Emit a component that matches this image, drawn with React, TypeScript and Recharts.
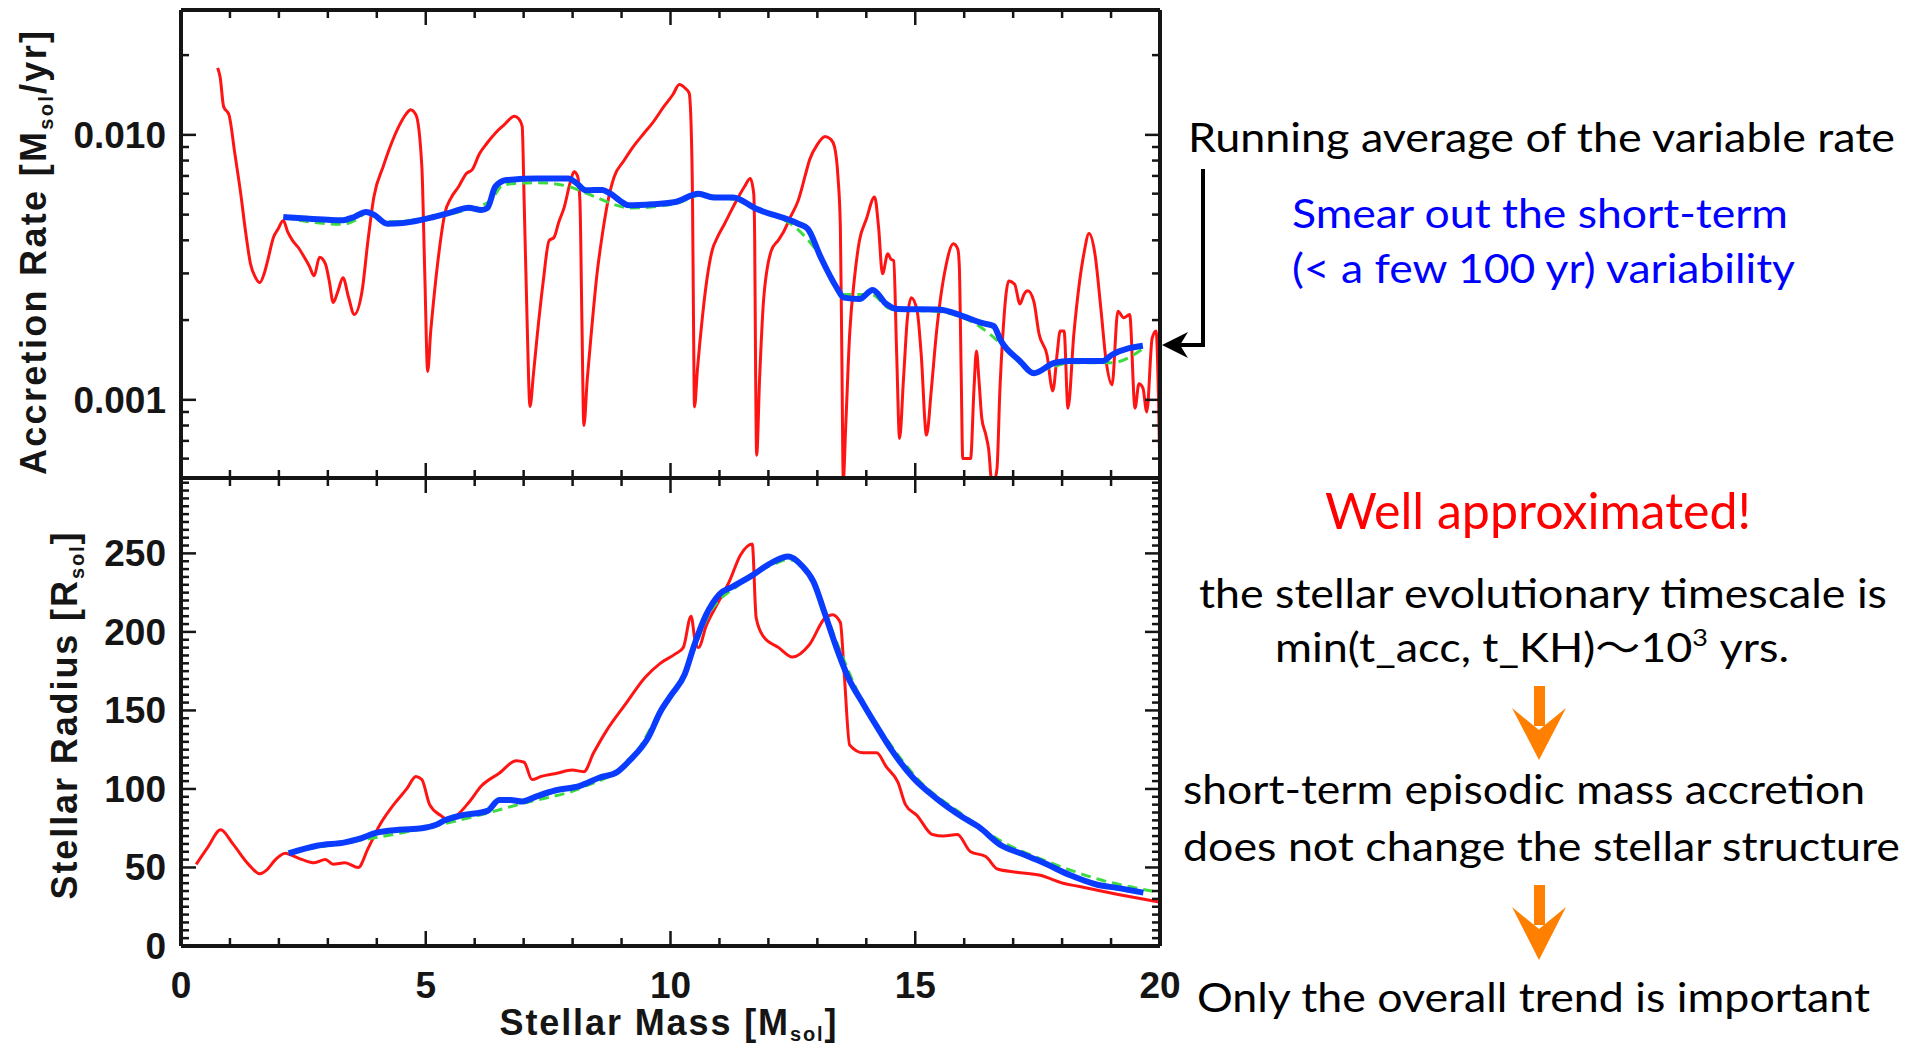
import React from "react";
import { LineChart, Line, XAxis, YAxis } from "recharts";

// upper panel: variable accretion rate (red), running average (blue), fit (green dashed)
const rateMass = [
  0.75, 0.8, 0.87, 0.98, 1.1, 1.22, 1.32, 1.42, 1.52, 1.61, 1.7, 1.77, 1.89, 1.98, 2.09, 2.18, 2.28, 2.4, 2.52, 2.62,
  2.72, 2.83, 2.95, 3.03, 3.11, 3.2, 3.31, 3.42, 3.54, 3.7, 3.82, 3.94, 4.13, 4.3, 4.45, 4.6, 4.69, 4.8, 4.92, 4.98,
  5.04, 5.1, 5.16, 5.27, 5.39, 5.52, 5.67, 5.83, 5.95, 6.1, 6.25, 6.42, 6.6, 6.81, 6.9, 6.97, 7.01, 7.07, 7.13, 7.2,
  7.28, 7.4, 7.52, 7.62, 7.72, 7.83, 7.95, 8.03, 8.1, 8.15, 8.19, 8.23, 8.3, 8.38, 8.5, 8.61, 8.72, 8.85, 9.05, 9.24,
  9.45, 9.63, 9.87, 10.05, 10.18, 10.3, 10.38, 10.42, 10.45, 10.47, 10.49, 10.55, 10.65, 10.75, 10.85, 10.96, 11.1,
  11.28, 11.51, 11.63, 11.7, 11.72, 11.74, 11.76, 11.82, 11.9, 12.06, 12.2, 12.29, 12.45, 12.61, 12.75, 12.84, 13.0,
  13.16, 13.28, 13.35, 13.42, 13.47, 13.5, 13.53, 13.58, 13.66, 13.76, 13.86, 14.0, 14.17, 14.25, 14.33, 14.44, 14.5,
  14.56, 14.62, 14.68, 14.76, 14.84, 14.92, 15.04, 15.12, 15.23, 15.33, 15.43, 15.62, 15.78, 15.87, 15.9, 15.94,
  15.97, 16.05, 16.13, 16.2, 16.25, 16.3, 16.36, 16.44, 16.5, 16.56, 16.62, 16.67, 16.73, 16.79, 16.91, 17.03, 17.14,
  17.22, 17.3, 17.42, 17.53, 17.69, 17.81, 17.9, 17.96, 18.04, 18.12, 18.24, 18.35, 18.45, 18.55, 18.67, 18.79, 18.9,
  19.02, 19.14, 19.26, 19.38, 19.49, 19.57, 19.65, 19.73, 19.84, 19.92, 19.97, 20.0,
];
const rateValue = [
  0.0179, 0.0165, 0.0128, 0.0119, 0.0085, 0.006, 0.0043, 0.00326, 0.0029, 0.00277, 0.003, 0.00335, 0.00411, 0.0044,
  0.00475, 0.0043, 0.00399, 0.00375, 0.00345, 0.0032, 0.00294, 0.00345, 0.00326, 0.0028, 0.00233, 0.00255, 0.00289,
  0.00245, 0.0021, 0.00258, 0.004, 0.00583, 0.00759, 0.0093, 0.01076, 0.012, 0.01245, 0.0119, 0.0076, 0.003, 0.00128,
  0.0018, 0.00236, 0.0036, 0.00505, 0.0058, 0.00637, 0.00715, 0.0074, 0.0085, 0.0093, 0.01015, 0.0109, 0.01175,
  0.0115, 0.01076, 0.00566, 0.002, 0.000944, 0.00125, 0.00177, 0.0028, 0.00399, 0.0041, 0.0047, 0.00534, 0.0066,
  0.00726, 0.007, 0.0056, 0.002, 0.0008, 0.0012, 0.00177, 0.003, 0.00424, 0.0056, 0.00695, 0.008, 0.00903, 0.0101,
  0.01107, 0.01283, 0.0142, 0.01549, 0.015, 0.0144, 0.011, 0.00566, 0.002, 0.00094, 0.0013, 0.00204, 0.0029, 0.00366,
  0.00411, 0.0046, 0.00535, 0.00637, 0.00684, 0.006, 0.004, 0.0012, 0.000618, 0.0012, 0.00236, 0.00366, 0.004,
  0.00424, 0.0049, 0.00566, 0.007, 0.00804, 0.0092, 0.00986, 0.0096, 0.00903, 0.007, 0.0045, 0.0015, 0.0005, 0.0008,
  0.00177, 0.0029, 0.00399, 0.0048, 0.00583, 0.0045, 0.00299, 0.00356, 0.0034, 0.00335, 0.0015, 0.000715, 0.0012,
  0.00204, 0.00243, 0.00216, 0.0015, 0.000736, 0.0011, 0.00177, 0.00316, 0.00388, 0.0037, 0.0032, 0.0012, 0.0006,
  0.0006, 0.0006, 0.0011, 0.00153, 0.0012, 0.00085, 0.00074, 0.00065, 0.0005, 0.0005, 0.00055, 0.0011, 0.00177,
  0.00281, 0.00273, 0.0023, 0.0025, 0.00258, 0.00236, 0.00177, 0.00148, 0.00108, 0.0015, 0.00182, 0.00182, 0.00093,
  0.00177, 0.00273, 0.0036, 0.00424, 0.00356, 0.00223, 0.0014, 0.00114, 0.00216, 0.00204, 0.0021, 0.00093, 0.00115,
  0.00111, 0.0009, 0.00171, 0.00182, 0.001, 0.0005,
];
const rateAvgMass = [
  2.09, 2.56, 3.0, 3.27, 3.54, 3.78, 3.94, 4.21, 4.53, 5.16, 5.55, 5.87, 6.14, 6.26, 6.42, 6.65, 7.28, 7.91, 8.07, 8.27,
  8.61, 8.77, 9.16, 9.63, 10.1, 10.57, 10.88, 11.28, 11.74, 12.61, 12.8, 13.07, 13.39, 13.54, 13.86, 14.13, 14.41,
  14.64, 15.5, 15.97, 16.36, 16.6, 16.75, 17.14, 17.42, 17.85, 18.16, 18.83, 19.02, 19.65,
];
const rateAvgValue = [
  0.0049, 0.00483, 0.00478, 0.00476, 0.0049, 0.00512, 0.005, 0.00462, 0.00465, 0.0049, 0.00512, 0.00531, 0.0052,
  0.0053, 0.00637, 0.00675, 0.00684, 0.00684, 0.0066, 0.00618, 0.0062, 0.006, 0.00542, 0.00547, 0.00558, 0.006,
  0.0058, 0.0058, 0.00527, 0.00462, 0.00443, 0.00345, 0.00266, 0.00243, 0.0024, 0.0026, 0.0023, 0.0022, 0.00219,
  0.00207, 0.00195, 0.0019, 0.00167, 0.0014, 0.00126, 0.00138, 0.0014, 0.0014, 0.00148, 0.0016,
];
const rateFitMass = [
  2.09, 2.6, 3.3, 3.6, 3.8, 4.2, 5.2, 5.8, 6.3, 6.6, 7.3, 7.9, 8.3, 9.2, 10.1, 10.6, 11.3, 11.8, 12.6, 13.1, 13.5, 14.1,
  14.5, 15.5, 16.3, 16.8, 17.4, 18.2, 19.0, 19.7,
];
const rateFitValue = [
  0.0049, 0.0047, 0.0046, 0.0048, 0.0051, 0.0047, 0.0049, 0.0052, 0.0056, 0.0065, 0.0066, 0.0064, 0.006, 0.0053,
  0.0055, 0.0059, 0.0057, 0.0052, 0.0044, 0.0034, 0.0025, 0.0025, 0.0022, 0.00215, 0.0019, 0.0016, 0.00128, 0.00138,
  0.00138, 0.00158,
];

// lower panel: stellar radius
const radiusMass = [
  0.31, 0.55, 0.81, 1.06, 1.38, 1.61, 1.77, 1.93, 2.13, 2.24, 2.48, 2.72, 2.95, 3.11, 3.35, 3.62, 3.82, 4.06, 4.37,
  4.61, 4.8, 4.92, 5.08, 5.31, 5.47, 5.63, 5.87, 6.14, 6.5, 6.85, 7.01, 7.17, 7.36, 7.68, 7.99, 8.23, 8.43, 8.69, 9.08,
  9.48, 9.79, 10.1, 10.26, 10.42, 10.5, 10.57, 10.73, 10.96, 11.2, 11.43, 11.67, 11.75, 11.9, 12.21, 12.49, 12.84,
  13.16, 13.31, 13.47, 13.55, 13.66, 13.94, 14.21, 14.41, 14.65, 14.8, 15.04, 15.35, 15.58, 15.86, 16.13, 16.44,
  16.68, 17.07, 17.55, 18.02, 18.33, 19.12, 19.98,
];
const radiusValue = [
  52, 63, 74, 65, 52, 46, 49, 55, 59, 58, 55, 53, 55, 52, 53, 50, 62, 77, 91, 100, 108, 106, 90, 83, 80, 83, 91, 102,
  110, 118, 117, 106, 108, 110, 112, 111, 123, 137, 154, 171, 180, 186, 190, 210, 195, 190, 204, 218, 232, 249, 256,
  209, 197, 190, 184, 192, 209, 211, 206, 173, 128, 123, 123, 114, 104, 90, 83, 71, 70, 71, 60, 57, 49, 47, 45, 40,
  38, 33, 28,
];
const radiusAvgMass = [
  2.2, 2.8, 3.35, 3.62, 3.98, 4.45, 4.92, 5.2, 5.39, 5.71, 6.26, 6.5, 6.73, 6.97, 7.24, 7.64, 8.15, 8.53, 8.92, 9.16,
  9.55, 9.79, 10.02, 10.29, 10.49, 10.73, 11.0, 11.28, 11.67, 12.06, 12.41, 12.69, 12.92, 13.16, 13.39, 13.63, 13.94,
  14.21, 14.49, 14.96, 15.43, 15.97, 16.29, 16.76, 17.15, 17.62, 18.17, 18.72, 19.12, 19.66,
];
const radiusAvgValue = [
  59, 64, 66, 68, 72, 74, 75, 77, 80, 83, 86, 93, 93, 92, 95, 99, 102, 107, 111, 118, 133, 149, 160, 173, 192, 211,
  224, 229, 236, 244, 248, 242, 232, 211, 190, 171, 154, 140, 126, 107, 94, 82, 76, 64, 59, 53, 45, 39, 37, 34,
];
const radiusFitMass = [
  2.2, 3.0, 3.6, 4.5, 5.4, 6.3, 7.0, 8.2, 9.2, 9.8, 10.3, 10.8, 11.4, 12.1, 12.4, 12.9, 13.4, 13.9, 14.5, 15.0, 16.0,
  16.8, 17.6, 18.2, 18.8, 19.5, 20.0,
];
const radiusFitValue = [
  60, 64, 67, 72, 78, 85, 91, 101, 119, 150, 175, 212, 230, 243, 246, 233, 193, 157, 128, 108, 83, 66, 55, 48, 42,
  37, 34,
];

const massTicks = Array.from({ length: 21 }, (_, i) => i);
const massMajor = [0, 5, 10, 15, 20];
const massLabels = ["0", "5", "10", "15", "20"];
const rateTicks = [
  0.0006, 0.0007, 0.0008, 0.0009, 0.001, 0.002, 0.003, 0.004, 0.005, 0.006, 0.007, 0.008, 0.009, 0.01, 0.02,
];
const rateMajor = [0.001, 0.01];
const rateLabels = ["0.001", "0.010"];
const radiusTicks = Array.from({ length: 60 }, (_, i) => i * 5);
const radiusMajor = [0, 50, 100, 150, 200, 250];
const radiusLabels = ["0", "50", "100", "150", "200", "250"];

const INK = "#151515";
const RED = "#ff1414";
const BLUE = "#0a3cff";
const GREEN = "#3fdc3f";
const ORANGE = "#ff7f00";
const AXIS_FONT = "'Liberation Sans', Arial, sans-serif";
const NOTE_FONT = "Lato, 'Noto Sans', 'Noto Sans CJK JP', sans-serif";

const zip = (ms: number[], vs: number[]) => ms.map((m, i) => ({ m, v: vs[i] }));
const same = (a: number, b: number) => Math.abs(a - b) <= Math.abs(b) * 1e-6 + 1e-12;

type Side = "top" | "bottom" | "left" | "right";

// IDL style: ticks point into the box, long for majors, short for minors
function tickFor(side: Side, majors: number[], labels?: string[]) {
  return (p: any) => {
    const { x, y, payload } = p;
    const idx = majors.findIndex((t) => same(payload.value, t));
    const len = idx >= 0 ? 15 : 8;
    const dx = side === "left" ? len : side === "right" ? -len : 0;
    const dy = side === "bottom" ? -len : side === "top" ? len : 0;
    const label = labels && idx >= 0 ? labels[idx] : null;
    return (
      <g>
        <line x1={x} y1={y} x2={x + dx} y2={y + dy} stroke={INK} strokeWidth={2.5} />
        {label !== null && side === "bottom" && (
          <text x={x} y={y + 52} textAnchor="middle" fontFamily={AXIS_FONT} fontWeight={700} fontSize={37} fill={INK}>
            {label}
          </text>
        )}
        {label !== null && side === "left" && (
          <text x={x - 15} y={y + 13} textAnchor="end" fontFamily={AXIS_FONT} fontWeight={700} fontSize={37} fill={INK}>
            {label}
          </text>
        )}
      </g>
    );
  };
}

const axisCommon = {
  axisLine: { stroke: INK, strokeWidth: 4 },
  tickLine: false,
  tickSize: 0,
  tickMargin: 0,
  interval: 0 as const,
  allowDataOverflow: true,
};

function AccretionPanel() {
  return (
    <LineChart width={1200} height={488} margin={{ top: 8, right: 0, bottom: 0, left: 0 }}>
      <XAxis xAxisId="b" orientation="bottom" type="number" dataKey="m" domain={[0, 20]} ticks={massTicks}
        height={10} tick={tickFor("bottom", massMajor)} {...axisCommon} />
      <XAxis xAxisId="t" orientation="top" type="number" dataKey="m" domain={[0, 20]} ticks={massTicks}
        height={2} tick={tickFor("top", massMajor)} {...axisCommon} />
      <YAxis yAxisId="l" orientation="left" type="number" scale="log" domain={[0.000507, 0.0296]} ticks={rateTicks}
        width={181} tick={tickFor("left", rateMajor, rateLabels)} {...axisCommon} />
      <YAxis yAxisId="r" orientation="right" type="number" scale="log" domain={[0.000507, 0.0296]} ticks={rateTicks}
        width={40} tick={tickFor("right", rateMajor)} {...axisCommon} />
      <Line xAxisId="b" yAxisId="l" data={zip(rateMass, rateValue)} dataKey="v" type="monotone" stroke={RED}
        strokeWidth={3} dot={false} isAnimationActive={false} />
      <Line xAxisId="b" yAxisId="l" data={zip(rateFitMass, rateFitValue)} dataKey="v" type="monotone" stroke={GREEN}
        strokeWidth={3} strokeDasharray="10 6" dot={false} isAnimationActive={false} />
      <Line xAxisId="b" yAxisId="l" data={zip(rateAvgMass, rateAvgValue)} dataKey="v" type="monotone" stroke={BLUE}
        strokeWidth={6} dot={false} isAnimationActive={false} />
    </LineChart>
  );
}

function RadiusPanel() {
  return (
    <LineChart width={1200} height={1049} margin={{ top: 476, right: 0, bottom: 0, left: 0 }}>
      <XAxis xAxisId="b" orientation="bottom" type="number" dataKey="m" domain={[0, 20]} ticks={massTicks}
        height={103} tick={tickFor("bottom", massMajor, massLabels)} {...axisCommon} />
      <XAxis xAxisId="t" orientation="top" type="number" dataKey="m" domain={[0, 20]} ticks={massTicks}
        height={2} tick={tickFor("top", massMajor)} {...axisCommon} />
      <YAxis yAxisId="l" orientation="left" type="number" domain={[0, 298]} ticks={radiusTicks}
        width={181} tick={tickFor("left", radiusMajor, radiusLabels)} {...axisCommon} />
      <YAxis yAxisId="r" orientation="right" type="number" domain={[0, 298]} ticks={radiusTicks}
        width={40} tick={tickFor("right", radiusMajor)} {...axisCommon} />
      <Line xAxisId="b" yAxisId="l" data={zip(radiusMass, radiusValue)} dataKey="v" type="monotone" stroke={RED}
        strokeWidth={3} dot={false} isAnimationActive={false} />
      <Line xAxisId="b" yAxisId="l" data={zip(radiusFitMass, radiusFitValue)} dataKey="v" type="monotone" stroke={GREEN}
        strokeWidth={3} strokeDasharray="10 6" dot={false} isAnimationActive={false} />
      <Line xAxisId="b" yAxisId="l" data={zip(radiusAvgMass, radiusAvgValue)} dataKey="v" type="monotone" stroke={BLUE}
        strokeWidth={6} dot={false} isAnimationActive={false} />
    </LineChart>
  );
}

function Notes() {
  const titleProps = { fontFamily: AXIS_FONT, fontWeight: 700, fontSize: 36, fill: INK, textAnchor: "middle" as const };
  const note = { fontFamily: NOTE_FONT, fontSize: 40, fill: "#000", lengthAdjust: "spacingAndGlyphs" as const };
  return (
    <svg width={1921} height={1049} style={{ position: "absolute", left: 0, top: 0, pointerEvents: "none" }}>
      {/* axis titles */}
      <text {...titleProps} transform="translate(46,253) rotate(-90)" textLength={444} lengthAdjust="spacing">
        Accretion Rate [M<tspan fontSize={20} dy={7}>sol</tspan><tspan dy={-7}>/yr]</tspan>
      </text>
      <text {...titleProps} transform="translate(77,716) rotate(-90)" textLength={367} lengthAdjust="spacing">
        Stellar Radius [R<tspan fontSize={20} dy={7}>sol</tspan><tspan dy={-7}>]</tspan>
      </text>
      <text {...titleProps} x={668} y={1035} textLength={337} lengthAdjust="spacing">
        Stellar Mass [M<tspan fontSize={20} dy={6}>sol</tspan><tspan dy={-6}>]</tspan>
      </text>

      {/* annotations */}
      <text {...note} x={1188} y={152} textLength={707}>Running average of the variable rate</text>
      <text {...note} x={1292} y={228} fill="#0000ff" textLength={496}>Smear out the short-term</text>
      <text {...note} x={1292} y={283} fill="#0000ff" textLength={503}>(&lt; a few 100 yr) variability</text>
      <text {...note} x={1325} y={529} fontSize={50} fill="#ff0000" textLength={426}>Well approximated!</text>
      <text {...note} x={1199} y={608} textLength={688}>the stellar evolutionary timescale is</text>
      <text {...note} x={1275} y={662} textLength={514}>
        min(t_acc, t_KH)〜10<tspan fontSize={24} dy={-16}>3</tspan><tspan dy={16}> yrs.</tspan>
      </text>
      <text {...note} x={1183} y={804} textLength={682}>short-term episodic mass accretion</text>
      <text {...note} x={1183} y={861} textLength={717}>does not change the stellar structure</text>
      <text {...note} x={1197} y={1012} textLength={673}>Only the overall trend is important</text>

      {/* bracket arrow to the running average */}
      <polyline points="1203,169 1203,345 1178,345" fill="none" stroke="#000" strokeWidth={4} />
      <path d="M1162,345 L1188,332 L1180,345 L1188,358 Z" fill="#000" />

      {/* orange arrows */}
      <rect x={1534} y={686} width={11} height={40} fill={ORANGE} />
      <path d="M1539,760 L1512,708 L1539,730 L1566,708 Z" fill={ORANGE} />
      <rect x={1534} y={885} width={11} height={40} fill={ORANGE} />
      <path d="M1539,960 L1512,907 L1539,929 L1566,907 Z" fill={ORANGE} />
    </svg>
  );
}

export default function App() {
  return (
    <div style={{ position: "absolute", left: 0, top: 0, width: 1921, height: 1049, background: "#fff", overflow: "hidden" }}>
      <div style={{ position: "absolute", left: 0, top: 0 }}>
        <AccretionPanel />
      </div>
      <div style={{ position: "absolute", left: 0, top: 0 }}>
        <RadiusPanel />
      </div>
      <Notes />
    </div>
  );
}
